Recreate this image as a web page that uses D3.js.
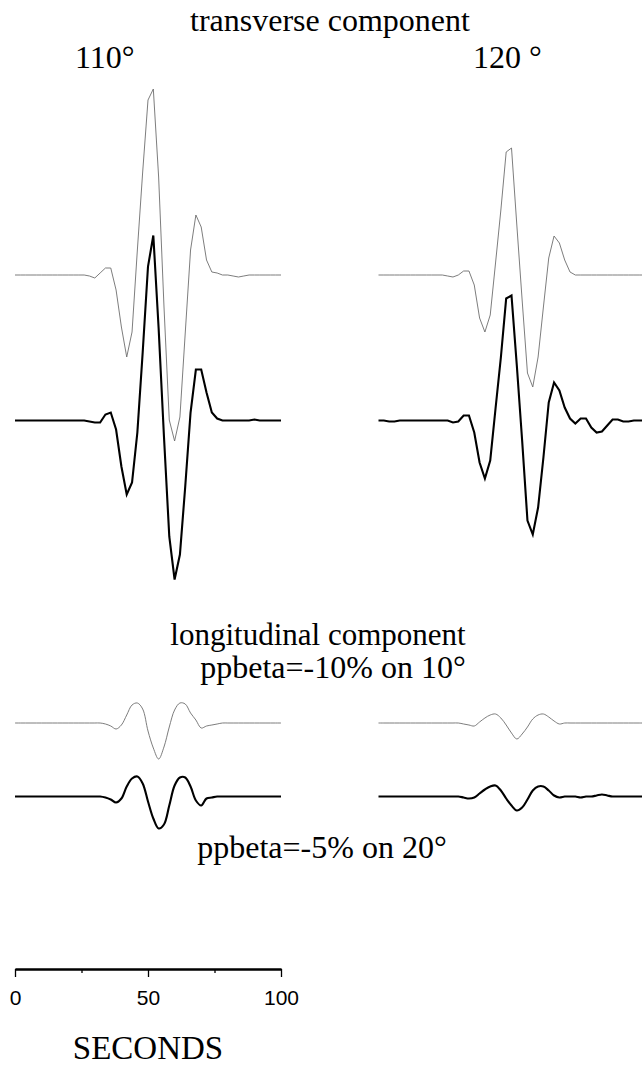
<!DOCTYPE html>
<html>
<head>
<meta charset="utf-8">
<script src="https://cdn.jsdelivr.net/npm/d3@7"></script>
<style>
  html, body { margin: 0; padding: 0; background: #fff; }
  svg { display: block; }
  .serif { font-family: "Liberation Serif", "Times New Roman", serif; fill: #000; }
  .sans { font-family: "Liberation Sans", Arial, sans-serif; }
</style>
</head>
<body>
<svg id="chart" width="642" height="1066"></svg>
<script>
// Time samples (s), every 2 s from 0 to 100
const times = d3.range(0, 101, 2);

// Epicentral distances of the two columns
const distances = ["110°", "120 °"];

// Transverse component, 110°: reference (grey) and perturbed (black) synthetics
const trans110Ref = [0,0,0,0,0,0,0,0,0,0,0,0,0,0,-1,-3,2,7,7,-15,-52,-82,-57,25,103,175,186,98,-31,-145,-166,-142,-58,25,60,48,15,3,2,0,0,-1,-2,-1,0,0,0,0,0,0,0];
const trans110Pert = [0,0,0,0,0,0,0,0,0,0,0,0,0,0,-1,-2,-2,6,8,-9,-46,-74,-62,-12,68,154,185,92,-16,-116,-159,-134,-66,8,51,51,28,8,2,0,0,0,0,0,0,1,0,0,0,0,0];

// Transverse component, 120°
const trans120Ref = [0,0,0,0,0,0,0,0,0,0,0,0,0,-1,-2,0,4,4,-10,-43,-57,-40,12,65,123,127,50,-25,-98,-112,-82,-32,17,39,32,15,3,0,0,0,0,0,0,0,0,0,0,0,0,0,0];
const trans120Pert = [0,0,-1,-1,0,0,0,0,0,0,0,0,0,0,-2,-1,5,5,-12,-42,-58,-40,12,63,122,125,55,-20,-100,-114,-87,-37,18,38,30,13,2,-3,2,2,-7,-12,-11,-5,1,1,-1,-1,0,0,0];

// Longitudinal component, 110°
const long110Ref = [0,0,0,0,0,0,0,0,0,0,0,0,0,0,0,0,0,-1,-3,-6,-2,8,18,20,14,-8,-25,-36,-24,-4,13,20,19,10,3,-5,-3,-2,-1,0,0,0,0,0,0,0,0,0,0,0,0];
const long110Pert = [0,0,0,0,0,0,0,0,0,0,0,0,0,0,0,0,0,-1,-3,-6,-2,10,18,20,13,-5,-22,-32,-28,-9,11,19,19,10,-4,-9,-2,-1,0,0,0,0,0,0,0,0,0,0,0,0,0];

// Longitudinal component, 120°
const long120Ref = [0,0,0,0,0,0,0,0,0,0,0,0,0,0,0,0,-1,-2,-3,1,5,8,9,5,-2,-10,-16,-11,-4,4,8,9,6,2,-1,0,0,0,0,0,0,0,0,0,0,0,0,0,0,0,0];
const long120Pert = [0,0,0,0,0,0,0,0,0,0,0,0,0,0,0,0,-1,-2,-1,3,7,10,11,6,-2,-9,-14,-11,-3,6,10,10,6,1,-1,0,0,0,-1,0,0,1,2,1,0,0,0,0,0,0,0];

// Time-axis ticks
const majorTicks = [0, 50, 100];
const minorTicks = [25, 75];

const svg = d3.select("#chart");

// Horizontal scales for the two columns (same seconds-per-pixel)
const xLeft = d3.scaleLinear().domain([0, 100]).range([15, 281]);
const xRight = d3.scaleLinear().domain([0, 100]).range([378.5, 644.5]);

// Amplitude scale: one unit of displacement per pixel, positive up
const amp = d3.scaleLinear().domain([-200, 200]).range([200, -200]);

const traces = [
  { x: xLeft,  base: 275,   v: trans110Ref,  ref: true,  smooth: false },
  { x: xLeft,  base: 420.5, v: trans110Pert, ref: false, smooth: false },
  { x: xRight, base: 275,   v: trans120Ref,  ref: true,  smooth: false },
  { x: xRight, base: 420.5, v: trans120Pert, ref: false, smooth: false },
  { x: xLeft,  base: 723,   v: long110Ref,   ref: true,  smooth: true },
  { x: xLeft,  base: 796.5, v: long110Pert,  ref: false, smooth: true },
  { x: xRight, base: 723,   v: long120Ref,   ref: true,  smooth: true },
  { x: xRight, base: 796.5, v: long120Pert,  ref: false, smooth: true }
];

traces.forEach(tr => {
  const line = d3.line()
    .x((d, i) => tr.x(times[i]))
    .y(d => tr.base + amp(d))
    .curve(tr.smooth ? d3.curveCatmullRom.alpha(0.5) : d3.curveLinear);
  svg.append("path")
    .datum(tr.v)
    .attr("d", line)
    .attr("fill", "none")
    .attr("stroke", tr.ref ? "#6e6e6e" : "#000")
    .attr("stroke-width", tr.ref ? 0.9 : 2.1)
    .attr("stroke-linejoin", "miter");
});

// Titles and labels
svg.append("text").attr("class", "serif")
  .attr("x", 330).attr("y", 31).attr("text-anchor", "middle")
  .attr("font-size", 32).text("transverse component");

svg.append("text").attr("class", "serif")
  .attr("x", 75).attr("y", 68).attr("font-size", 32).text(distances[0]);
svg.append("text").attr("class", "serif")
  .attr("x", 473).attr("y", 68).attr("font-size", 32).text(distances[1]);

svg.append("text").attr("class", "serif")
  .attr("x", 318).attr("y", 645).attr("text-anchor", "middle")
  .attr("font-size", 31).text("longitudinal component");
svg.append("text").attr("class", "serif")
  .attr("x", 333).attr("y", 678).attr("text-anchor", "middle")
  .attr("font-size", 32).text("ppbeta=-10% on 10°");
svg.append("text").attr("class", "serif")
  .attr("x", 322).attr("y", 858).attr("text-anchor", "middle")
  .attr("font-size", 32).text("ppbeta=-5% on 20°");

// Time scale bar
const axisY = 969;
const major = d3.axisBottom(xLeft).tickValues(majorTicks).tickSize(8).tickSizeOuter(0)
  .tickFormat(d3.format("d"));
const minor = d3.axisBottom(xLeft).tickValues(minorTicks).tickSize(4).tickSizeOuter(0)
  .tickFormat("");

const gMinor = svg.append("g").attr("transform", `translate(0,${axisY})`).call(minor);
const gMajor = svg.append("g").attr("transform", `translate(0,${axisY})`).call(major);
[gMinor, gMajor].forEach(g => {
  g.select(".domain").attr("stroke", "#000").attr("stroke-width", 2);
  g.selectAll(".tick line").attr("stroke", "#000").attr("stroke-width", 1.3);
});
gMajor.selectAll(".tick text")
  .attr("class", "sans")
  .attr("font-size", 21)
  .attr("fill", "#000")
  .attr("y", 36).attr("dy", 0);

svg.append("text").attr("class", "serif")
  .attr("x", 148).attr("y", 1059).attr("text-anchor", "middle")
  .attr("font-size", 33).text("SECONDS");
</script>
</body>
</html>
